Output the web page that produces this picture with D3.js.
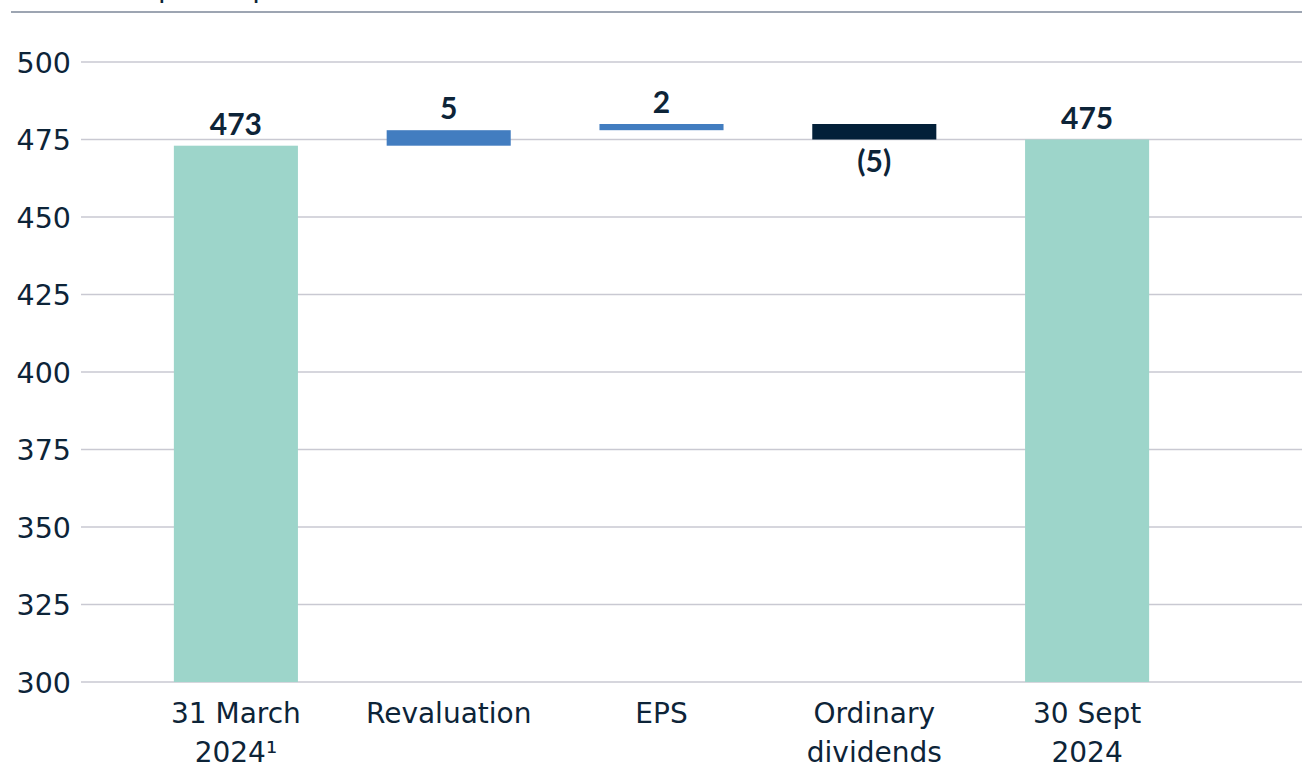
<!DOCTYPE html>
<html>
<head>
<meta charset="utf-8">
<script src="https://cdn.jsdelivr.net/npm/d3@7"></script>
<style>
  html, body { margin: 0; padding: 0; background: #ffffff; }
  svg { display: block; }
  text { fill: #0d2438; }
</style>
</head>
<body>
<svg id="chart" width="1302" height="766"></svg>
<script>
// ---- data ----
const title = "EPRA NTA pence per share";
const categories = ["31 March|2024\u00B9", "Revaluation", "EPS", "Ordinary|dividends", "30 Sept|2024"];
const kinds = ["total", "delta", "delta", "delta", "total"];
const values = [473, 5, 2, -5, 475];
const valueLabels = ["473", "5", "2", "(5)", "475"];
const yTicks = [300, 325, 350, 375, 400, 425, 450, 475, 500];

// ---- layout ----
const W = 1302, H = 766;
const svg = d3.select("#chart");
const y = d3.scaleLinear().domain([300, 500]).range([682, 62]);
const x = d3.scaleBand().domain(categories).range([129.5, 1193.5]).paddingInner(0.417).paddingOuter(0.2085);
const regFont = "'DejaVu Sans', sans-serif";
const boldFont = "Lato, 'Open Sans', sans-serif";

// compute waterfall segments
let running = 0;
const segs = categories.map((c, i) => {
  let lo, hi;
  if (kinds[i] === "total") { lo = 300; hi = values[i]; running = values[i]; }
  else { const start = running; running += values[i]; lo = Math.min(start, running); hi = Math.max(start, running); }
  return { c, i, lo, hi, v: values[i], kind: kinds[i] };
});

const colorOf = d => d.kind === "total" ? "#9dd5ca" : (d.v >= 0 ? "#427dc0" : "#032039");

// top rule
svg.append("line").attr("x1", 11).attr("x2", W).attr("y1", 12).attr("y2", 12)
  .attr("stroke", "#7d8799").attr("stroke-width", 1.5);
svg.append("text").attr("x", 13).attr("y", -3)
  .style("font-family", regFont).style("font-size", "28px").text(title);

// gridlines + y tick labels
const yAxis = d3.axisLeft(y).tickValues(yTicks).tickSize(0).tickPadding(0);
const gy = svg.append("g").attr("transform", "translate(71,0)").call(yAxis);
gy.select(".domain").remove();
gy.selectAll("text").style("font-size", "28.5px").style("font-family", regFont)
  .attr("fill", "#0d2438").attr("dy", "0.36em").attr("x", 0);

svg.append("g").selectAll("line").data(yTicks).join("line")
  .attr("x1", 81).attr("x2", W)
  .attr("y1", d => y(d)).attr("y2", d => y(d))
  .attr("stroke", "#c9c9d2").attr("stroke-width", 1.5);

// bars
svg.append("g").selectAll("rect").data(segs).join("rect")
  .attr("x", d => x(d.c))
  .attr("width", x.bandwidth())
  .attr("y", d => y(d.hi))
  .attr("height", d => y(d.lo) - y(d.hi))
  .attr("fill", colorOf);

// value labels
svg.append("g").selectAll("text").data(segs).join("text")
  .attr("x", d => x(d.c) + x.bandwidth() / 2)
  .attr("y", d => d.v < 0 ? y(d.lo) + 32 : y(d.hi) - 11)
  .attr("text-anchor", "middle")
  .style("font-family", boldFont)
  .style("font-size", "30px").style("font-weight", "700")
  .attr("fill", "#0d2438")
  .text((d, i) => valueLabels[i]);

// x axis labels
const xl = svg.append("g").selectAll("text").data(categories).join("text")
  .attr("x", d => x(d) + x.bandwidth() / 2)
  .attr("y", 723)
  .attr("text-anchor", "middle")
  .style("font-family", regFont)
  .style("font-size", "28px");
xl.each(function(d) {
  const parts = d.split("|");
  const t = d3.select(this);
  parts.forEach((p, k) => {
    t.append("tspan").attr("x", x(d) + x.bandwidth() / 2).attr("dy", k === 0 ? 0 : 39).text(p);
  });
});
</script>
</body>
</html>
